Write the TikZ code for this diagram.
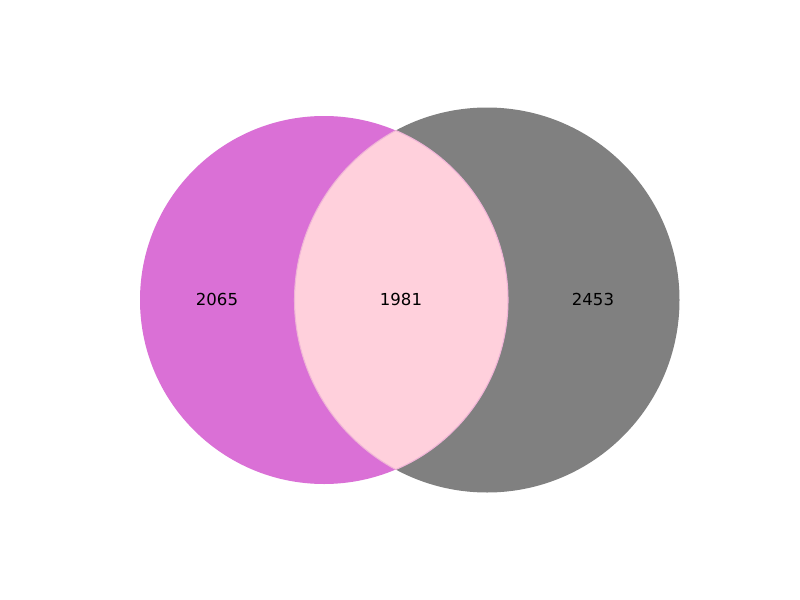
\documentclass[tikz,border=0pt]{standalone}
\usepackage{fontspec}
\setmainfont{DejaVu Sans}
\definecolor{orchidc}{RGB}{218,112,214}
\definecolor{grayc}{RGB}{128,128,128}
\definecolor{pinkc}{RGB}{255,208,220}
\definecolor{pinkedge}{RGB}{240,180,215}
\begin{document}
\begin{tikzpicture}[x=0.75pt,y=-0.75pt,
  lbl/.style={font=\fontsize{12.4}{14}\selectfont, text=black, inner sep=0pt}]
\useasboundingbox (0,0) rectangle (800,600);
\fill[white] (0,0) rectangle (800,600);
\fill[orchidc] (324,300) circle[radius=184];
\fill[grayc] (487,300) circle[radius=192.5];
\begin{scope}
  \clip (324,300) circle[radius=184];
  \fill[pinkc] (487,300) circle[radius=192.5];
  \draw[pinkedge, line width=0.8pt] (487,300) circle[radius=192.5];
\end{scope}
\begin{scope}
  \clip (487,300) circle[radius=192.5];
  \draw[pinkedge, line width=0.8pt] (324,300) circle[radius=184];
\end{scope}
\node[lbl] (a) at (217,299) {2065};
\node[lbl] (ab) at (401,299) {1981};
\node[lbl] (b) at (593,299) {2453};
\end{tikzpicture}
\end{document}
